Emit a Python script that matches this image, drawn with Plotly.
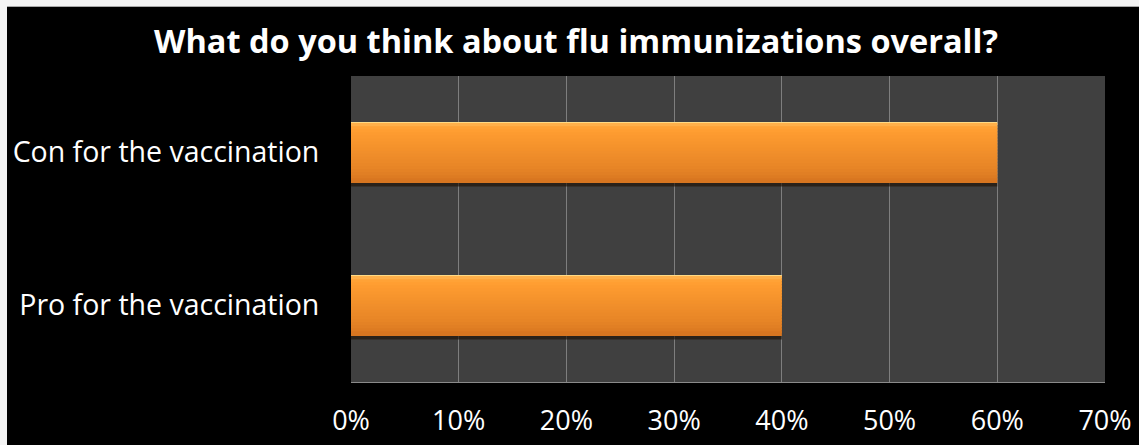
import plotly.graph_objects as go

# Survey results
categories = ["Pro for the vaccination", "Con for the vaccination"]
shares = [0.40, 0.60]
tick_values = [0, 0.1, 0.2, 0.3, 0.4, 0.5, 0.6, 0.7]
tick_labels = ["0%", "10%", "20%", "30%", "40%", "50%", "60%", "70%"]
title_text = "What do you think about flu immunizations overall?"

W, H = 1139, 445
ML, MR, MT, MB = 351, 34, 76, 63
PW, PH = W - ML - MR, H - MT - MB

FONT = "Open Sans"
BAR_W = 0.4

fig = go.Figure()

# Soft shadow under each bar
fig.add_trace(go.Bar(
    y=categories, x=shares, orientation="h",
    width=BAR_W, offset=-BAR_W / 2 - 0.022,
    marker=dict(color="rgba(30,18,6,0.65)", line=dict(width=0)),
    hoverinfo="skip", showlegend=False,
))

# Bar body drawn as horizontal strips: a pale highlight on top, then orange
# shading gradually darker towards the bottom edge
strip_colors = [
    "#FFDA85", "#FFB04A", "#FFA236", "#FF9E32", "#FD9B30", "#FB992F",
    "#F9972E", "#F7952D", "#F5932C", "#F3912B", "#F18F2B", "#EF8D2A",
    "#ED8B29", "#EB8928", "#E98727", "#E78526", "#E48225", "#E17F24",
    "#DD7B22", "#D87620",
]
n = len(strip_colors)
sw = BAR_W / n
ov = sw * 0.6
for i, c in enumerate(strip_colors):
    top = BAR_W / 2 - i * sw
    bottom = top - sw
    extra = ov if i > 0 else 0.0
    fig.add_trace(go.Bar(
        y=categories, x=shares, orientation="h",
        width=sw + extra, offset=bottom,
        marker=dict(color=c, line=dict(width=0)),
        hoverinfo="skip", showlegend=False,
    ))

fig.update_layout(
    template="none",
    width=W, height=H,
    margin=dict(l=ML, r=MR, t=MT, b=MB, pad=0, autoexpand=False),
    paper_bgcolor="#000000",
    plot_bgcolor="#404040",
    barmode="overlay",
    showlegend=False,
    title=dict(
        text=f"<b>{title_text}</b>",
        font=dict(family=FONT, size=32.5, color="#FFFFFF"),
        x=576 / W, xanchor="center", xref="container",
        y=1 - 42 / H, yanchor="middle", yref="container",
    ),
    xaxis=dict(
        range=[0, 0.7],
        tickvals=tick_values, ticktext=tick_labels,
        showgrid=True, gridcolor="#7E7E7E", gridwidth=1,
        zeroline=False,
        showline=True, linecolor="#8A8A8A", linewidth=1,
        ticks="outside", ticklen=15, tickcolor="rgba(0,0,0,0)",
        tickfont=dict(family=FONT, size=27, color="#FFFFFF"),
        automargin=False, fixedrange=True,
    ),
    yaxis=dict(
        type="category",
        categoryorder="array", categoryarray=categories,
        range=[-0.5, 1.5],
        showgrid=False, zeroline=False, showline=False,
        ticks="outside", ticklen=25, tickcolor="rgba(0,0,0,0)",
        tickfont=dict(family=FONT, size=28.5, color="#FFFFFF"),
        automargin=False, fixedrange=True,
    ),
)

# Light frame along the top and left edges of the slide
def px_x(p):
    return (p - ML) / PW

def px_y(p):
    return 1 - (p - MT) / PH

fig.add_shape(type="rect", xref="paper", yref="paper",
              x0=px_x(0), x1=px_x(7), y0=px_y(H), y1=px_y(0),
              fillcolor="#F4F4F4", line=dict(width=0), layer="above")
fig.add_shape(type="rect", xref="paper", yref="paper",
              x0=px_x(0), x1=px_x(W), y0=px_y(7), y1=px_y(0),
              fillcolor="#F4F4F4", line=dict(width=0), layer="above")
fig.add_shape(type="rect", xref="paper", yref="paper",
              x0=px_x(7), x1=px_x(W), y0=px_y(7), y1=px_y(6),
              fillcolor="#A8A8A8", line=dict(width=0), layer="above")

fig.write_html("out.html")
